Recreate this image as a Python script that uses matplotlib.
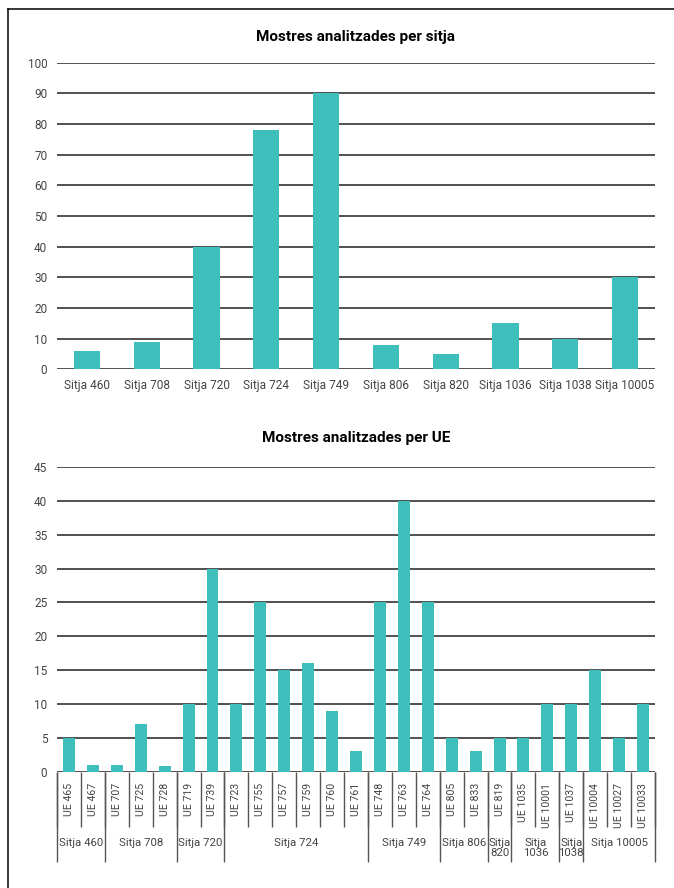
import matplotlib.pyplot as plt
from matplotlib.lines import Line2D

plt.rcParams['font.family'] = ['Roboto', 'DejaVu Sans']

# Mostres per sitja
sitges = ['Sitja 460', 'Sitja 708', 'Sitja 720', 'Sitja 724', 'Sitja 749',
          'Sitja 806', 'Sitja 820', 'Sitja 1036', 'Sitja 1038', 'Sitja 10005']
mostres_sitja = [6, 9, 40, 78, 90, 8, 5, 15, 10, 30]

# Mostres per UE, agrupades per sitja
ue_labels = ['UE 465', 'UE 467',
             'UE 707', 'UE 725', 'UE 728',
             'UE 719', 'UE 739',
             'UE 723', 'UE 755', 'UE 757', 'UE 759', 'UE 760', 'UE 761',
             'UE 748', 'UE 763', 'UE 764',
             'UE 805', 'UE 833',
             'UE 819',
             'UE 1035', 'UE 10001',
             'UE 1037',
             'UE 10004', 'UE 10027', 'UE 10033']
mostres_ue = [5, 1,
              1, 7, 0.8,
              10, 30,
              10, 25, 15, 16, 9, 3,
              25, 40, 25,
              5, 3,
              5,
              5, 10,
              10,
              15, 5, 10]
grups = ['Sitja 460', 'Sitja 708', 'Sitja 720', 'Sitja 724', 'Sitja 749',
         'Sitja 806', 'Sitja\n820', 'Sitja\n1036', 'Sitja\n1038', 'Sitja 10005']
mida_grups = [2, 3, 2, 6, 3, 2, 1, 2, 1, 3]

TEAL = '#3fbfbc'
GRID = '#333333'
TXT = '#444444'

fig = plt.figure(figsize=(6.74, 8.88), dpi=100)
W, H = 674, 888

# marc de la pàgina
fig.add_artist(Line2D([8 / W, 1], [1 - 9 / H, 1 - 9 / H], color='black', lw=1.1))
fig.add_artist(Line2D([8 / W, 8 / W], [0, 1 - 9 / H], color='black', lw=1.1))


def estil(ax, ymax, step):
    ax.set_yticks(range(0, ymax + 1, step))
    ax.set_ylim(0, ymax)
    ax.yaxis.grid(True, color=GRID, lw=1.2)
    ax.set_axisbelow(True)
    for s in ax.spines.values():
        s.set_visible(False)
    ax.tick_params(axis='y', length=0, pad=7, labelsize=8.5, labelcolor=TXT)


# gràfic 1
ax1 = fig.add_axes([57 / W, 1 - 369.3 / H, 598 / W, 306.5 / H])
x1 = range(len(sitges))
ax1.bar(x1, mostres_sitja, width=0.44, color=TEAL, zorder=3)
estil(ax1, 100, 10)
ax1.set_xlim(-0.5, len(sitges) - 0.5)
ax1.set_xticks(list(x1))
ax1.set_xticklabels(sitges)
ax1.tick_params(axis='x', length=0, pad=7, labelsize=8.6, labelcolor=TXT)
ax1.set_title('Mostres analitzades per sitja', fontsize=11, fontweight='bold',
              pad=16)

# gràfic 2
ax2 = fig.add_axes([57 / W, 1 - 771.7 / H, 598 / W, 304.7 / H])
x2 = range(len(ue_labels))
ax2.bar(x2, mostres_ue, width=0.5, color=TEAL, zorder=3)
estil(ax2, 45, 5)
ax2.set_xlim(-0.5, len(ue_labels) - 0.5)
ax2.set_xticks([])
ax2.set_title('Mostres analitzades per UE', fontsize=11, fontweight='bold',
              pad=18)

tr = ax2.get_xaxis_transform()
hpx = 304.7
for i, lab in enumerate(ue_labels):
    ax2.text(i, -11 / hpx, lab, rotation=90, ha='center', va='top',
             fontsize=7.6, color=TXT, transform=tr)

# separadors entre UE i entre sitges
vores = [0]
for m in mida_grups:
    vores.append(vores[-1] + m)
ax2.vlines([b - 0.5 for b in range(len(ue_labels) + 1)], -55 / hpx, 0,
           transform=tr, color='#555555', lw=1, clip_on=False)
ax2.vlines([b - 0.5 for b in vores], -90 / hpx, 0,
           transform=tr, color='#555555', lw=1, clip_on=False)
for g, a, b in zip(grups, vores[:-1], vores[1:]):
    ax2.text((a + b) / 2 - 0.5, -66 / hpx, g, ha='center', va='top',
             fontsize=8.2, color=TXT, linespacing=1.0, transform=tr)

fig.savefig('out.png', dpi=100)
